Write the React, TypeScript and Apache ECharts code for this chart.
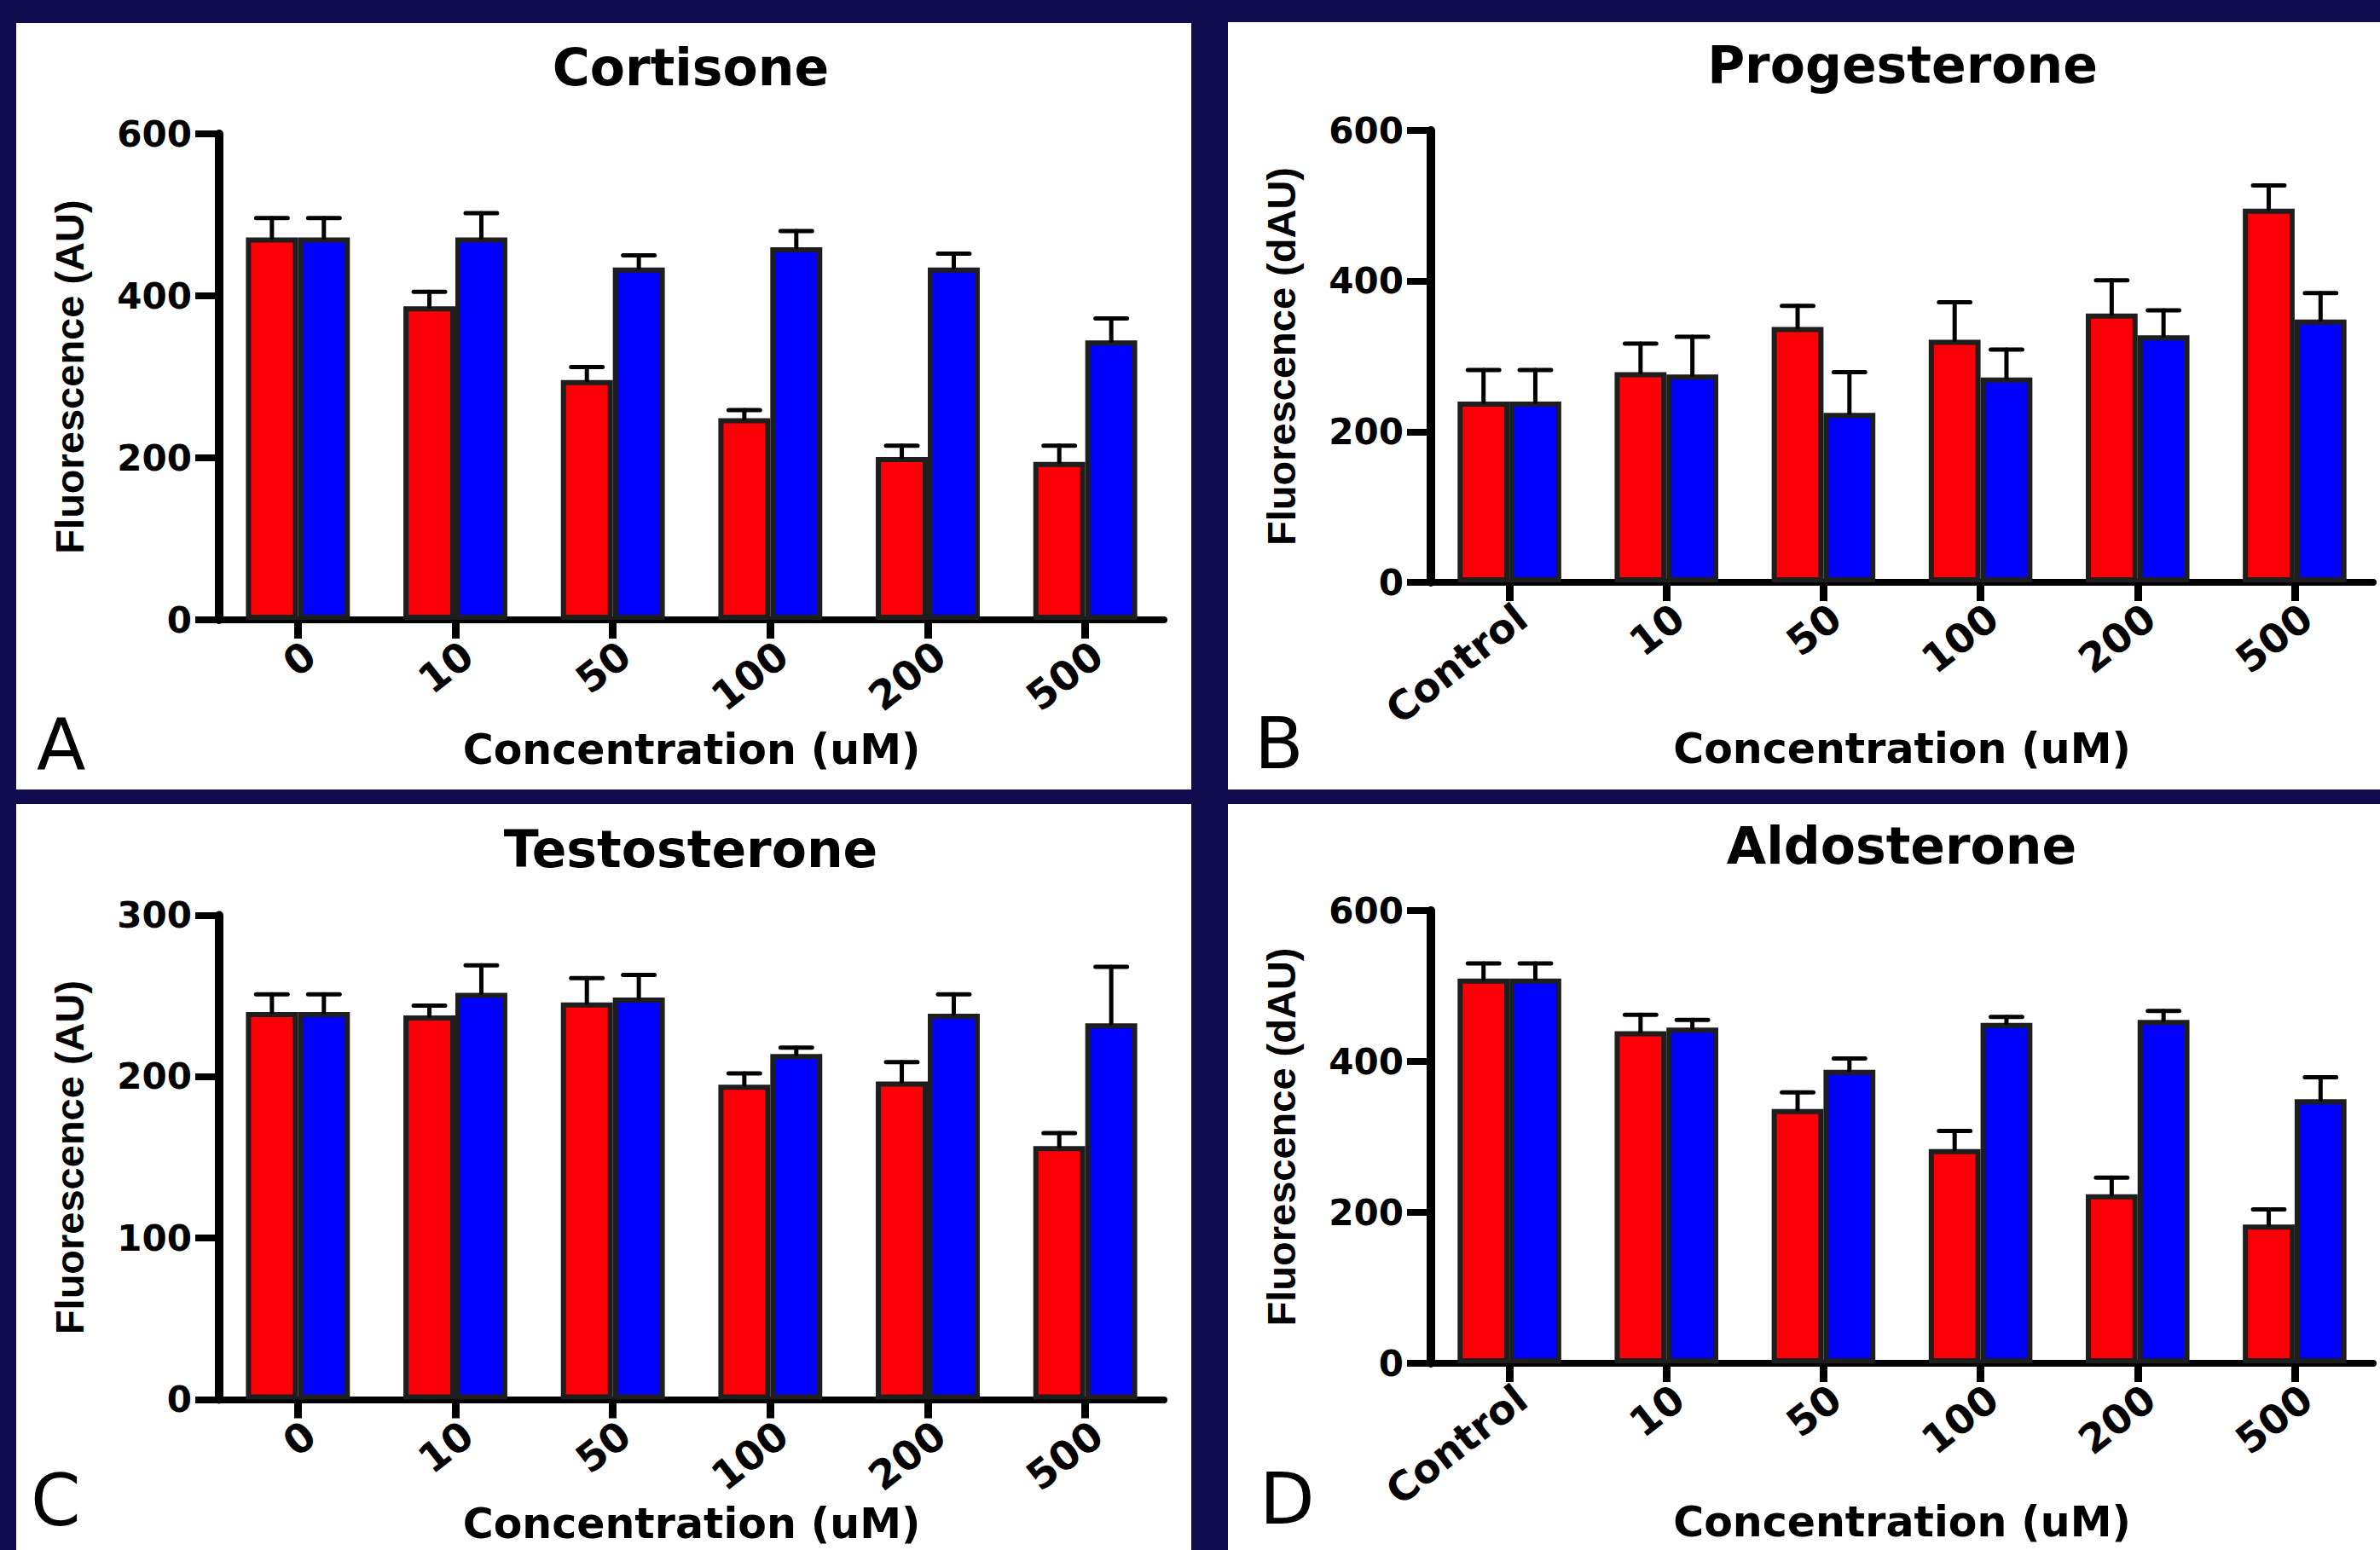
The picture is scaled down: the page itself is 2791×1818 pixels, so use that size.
import React, { useEffect, useRef } from "react";
import * as echarts from "echarts";

// ---------- data ----------
const concZero = ["0", "10", "50", "100", "200", "500"];
const concControl = ["Control", "10", "50", "100", "200", "500"];

const cortisoneRed = [472, 387, 296, 249, 201, 195];
const cortisoneRedErr = [24, 18, 16, 10, 14, 20];
const cortisoneBlue = [472, 472, 435, 460, 435, 345];
const cortisoneBlueErr = [24, 30, 15, 20, 17, 27];

const progesteroneRed = [240, 279, 339, 322, 357, 496];
const progesteroneRedErr = [42, 38, 28, 50, 44, 31];
const progesteroneBlue = [240, 276, 225, 272, 328, 349];
const progesteroneBlueErr = [42, 50, 54, 37, 33, 35];

const testosteroneRed = [240, 238, 246, 195, 197, 157];
const testosteroneRedErr = [11, 6, 15, 7, 12, 8];
const testosteroneBlue = [240, 252, 249, 214, 239, 233];
const testosteroneBlueErr = [11, 17, 14, 4, 12, 35];

const aldosteroneRed = [510, 440, 337, 284, 224, 184];
const aldosteroneRedErr = [20, 22, 22, 24, 22, 20];
const aldosteroneBlue = [510, 445, 389, 451, 455, 350];
const aldosteroneBlueErr = [20, 10, 15, 8, 12, 29];

const panelTitles = ["Cortisone", "Progesterone", "Testosterone", "Aldosterone"];
const panelLetters = ["A", "B", "C", "D"];
const yNames = ["Fluorescence (AU)", "Fluorescence (dAU)", "Fluorescence (AU)", "Fluorescence (dAU)"];
const xName = "Concentration (uM)";

// ---------- style ----------
const NAVY = "#100a4e";
const RED = "#fb0006";
const BLUE = "#0000ff";
const BORDER = "#1e1e1e";
const FONT = "'DejaVu Sans', sans-serif";
const YNAME_FONT = "'Liberation Sans', Arial, sans-serif";
const CAT_GAP = 0.34;

const panels = [
  {
    cats: concZero, red: cortisoneRed, redErr: cortisoneRedErr, blue: cortisoneBlue, blueErr: cortisoneBlueErr,
    yMax: 600, yStep: 200,
    rect: [19, 27, 1378, 899], grid: [257, 157, 1108, 570],
    titleX: 810, titleMid: 79, xNameGap: 128, letterX: 43, letterY: 874,
  },
  {
    cats: concControl, red: progesteroneRed, redErr: progesteroneRedErr, blue: progesteroneBlue, blueErr: progesteroneBlueErr,
    yMax: 600, yStep: 200,
    rect: [1440, 26, 1351, 900], grid: [1678, 153, 1105, 530],
    titleX: 2231, titleMid: 76, xNameGap: 171, letterX: 1471, letterY: 872,
  },
  {
    cats: concZero, red: testosteroneRed, redErr: testosteroneRedErr, blue: testosteroneBlue, blueErr: testosteroneBlueErr,
    yMax: 300, yStep: 100,
    rect: [19, 943, 1378, 875], grid: [257, 1073.5, 1108, 568],
    titleX: 810, titleMid: 996, xNameGap: 121, letterX: 36, letterY: 1760,
  },
  {
    cats: concControl, red: aldosteroneRed, redErr: aldosteroneRedErr, blue: aldosteroneBlue, blueErr: aldosteroneBlueErr,
    yMax: 600, yStep: 200,
    rect: [1440, 943, 1351, 875], grid: [1678, 1068, 1105, 531],
    titleX: 2230, titleMid: 992, xNameGap: 162, letterX: 1477, letterY: 1758,
  },
];

const errorRender = (params: any, api: any) => {
  const cat = api.value(0);
  const val = api.value(1);
  const err = api.value(2);
  const side = api.value(3);
  const band = api.size([1, 0])[0];
  const barW = (band * (1 - CAT_GAP)) / 2;
  const base = api.coord([cat, val]);
  const top = api.coord([cat, val + err]);
  const x = base[0] + (side * barW) / 2;
  const half = band * 0.1;
  const st = { stroke: "#000", lineWidth: 5, lineCap: "round" };
  return {
    type: "group",
    children: [
      { type: "line", shape: { x1: x, y1: base[1], x2: x, y2: top[1] }, style: st },
      { type: "line", shape: { x1: x - half, y1: top[1], x2: x + half, y2: top[1] }, style: st },
    ],
  };
};

function buildOption() {
  const grid: any[] = [];
  const xAxis: any[] = [];
  const yAxis: any[] = [];
  const series: any[] = [];
  const title: any[] = [];
  const graphic: any[] = [];

  panels.forEach((p, i) => {
    graphic.push({
      type: "rect",
      shape: { x: p.rect[0], y: p.rect[1], width: p.rect[2], height: p.rect[3] },
      style: { fill: "#ffffff" },
      z: -10,
      silent: true,
    });
    graphic.push({
      type: "text",
      x: p.letterX,
      y: p.letterY,
      z: 10,
      style: {
        text: panelLetters[i],
        font: "normal 84px 'DejaVu Sans', sans-serif",
        fill: "#000",
        align: "left",
        textAlign: "left",
        verticalAlign: "middle",
        textVerticalAlign: "middle",
      },
    });
    title.push({
      text: panelTitles[i],
      left: p.titleX - 5,
      top: p.titleMid - 30 - 5,
      textAlign: "center",
      textStyle: { fontFamily: FONT, fontWeight: "bold", fontSize: 60, color: "#000" },
    });
    grid.push({ left: p.grid[0], top: p.grid[1], width: p.grid[2], height: p.grid[3], containLabel: false });
    xAxis.push({
      type: "category",
      gridIndex: i,
      data: p.cats,
      boundaryGap: true,
      name: xName,
      nameLocation: "middle",
      nameGap: p.xNameGap,
      nameMoveOverlap: false,
      nameTextStyle: { fontFamily: FONT, fontWeight: "bold", fontSize: 49, color: "#000" },
      axisLine: { show: true, lineStyle: { color: "#000", width: 8 } },
      axisTick: { show: true, alignWithLabel: true, length: 22, lineStyle: { color: "#000", width: 9 } },
      axisLabel: {
        interval: 0,
        rotate: 38,
        margin: 17,
        align: "right",
        verticalAlign: "top",
        fontFamily: FONT,
        fontWeight: "bold",
        fontSize: 47,
        color: "#000",
      },
      splitLine: { show: false },
    });
    yAxis.push({
      type: "value",
      gridIndex: i,
      min: 0,
      max: p.yMax,
      interval: p.yStep,
      name: yNames[i],
      nameLocation: "middle",
      nameRotate: 90,
      nameGap: 152,
      nameMoveOverlap: false,
      nameTextStyle: { fontFamily: YNAME_FONT, fontWeight: "bold", fontSize: 47, color: "#000" },
      axisLine: { show: true, lineStyle: { color: "#000", width: 10 } },
      axisTick: { show: true, length: 28, lineStyle: { color: "#000", width: 8 } },
      axisLabel: { margin: 32, fontFamily: FONT, fontWeight: "bold", fontSize: 42, color: "#000" },
      splitLine: { show: false },
    });
    const barCommon = {
      type: "bar",
      xAxisIndex: i,
      yAxisIndex: i,
      barGap: "0%",
      barCategoryGap: CAT_GAP * 100 + "%",
      z: 2,
    };
    series.push({
      ...barCommon,
      name: "red",
      data: p.red,
      itemStyle: { color: RED, borderColor: BORDER, borderWidth: 6 },
    });
    series.push({
      ...barCommon,
      name: "blue",
      data: p.blue,
      itemStyle: { color: BLUE, borderColor: BORDER, borderWidth: 6 },
    });
    const errData = p.red
      .map((v, k) => [k, v, p.redErr[k], -1])
      .concat(p.blue.map((v, k) => [k, v, p.blueErr[k], 1]));
    series.push({
      type: "custom",
      xAxisIndex: i,
      yAxisIndex: i,
      data: errData,
      encode: { x: 0, y: 1 },
      renderItem: errorRender,
      z: 5,
      silent: true,
    });
  });

  return {
    animation: false,
    backgroundColor: NAVY,
    graphic,
    title,
    grid,
    xAxis,
    yAxis,
    series,
  };
}

export default function App() {
  const ref = useRef<HTMLDivElement>(null);
  useEffect(() => {
    if (!ref.current) return;
    const chart = echarts.init(ref.current, null, { renderer: "svg" });
    chart.setOption(buildOption() as any);
    return () => chart.dispose();
  }, []);
  return (
    <div
      ref={ref}
      style={{ position: "absolute", left: 0, top: 0, width: 2791, height: 1818 }}
    />
  );
}
